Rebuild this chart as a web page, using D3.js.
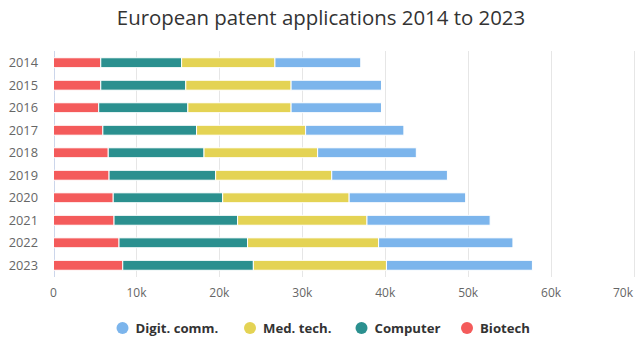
<!DOCTYPE html>
<html lang="en">
<head>
    <meta charset="UTF-8">
    <title>European patent applications 2014 to 2023</title>
    <style>
        body {
            margin: 0;
            padding: 0;
            background: #ffffff;
            font-family: "Open Sans", Arial, sans-serif;
        }
        svg text {
            font-family: "Open Sans", Arial, sans-serif;
        }
    </style>
</head>
<body>
    <div id="chart"></div>
    <script src="https://d3js.org/d3.v7.min.js"></script>
    <script>
        const years = ['2014', '2015', '2016', '2017', '2018', '2019', '2020', '2021', '2022', '2023'];
        const seriesNames = ['Biotech', 'Computer', 'Med. tech.', 'Digit. comm.'];
        const seriesColors = ['#f45b5b', '#2b908f', '#e4d354', '#7cb5ec'];
        const legendOrder = ['Digit. comm.', 'Med. tech.', 'Computer', 'Biotech'];

        // values in thousands
        const biotech = [5.7, 5.7, 5.45, 5.95, 6.6, 6.7, 7.2, 7.3, 7.9, 8.35];
        const computer = [9.75, 10.25, 10.75, 11.3, 11.55, 12.85, 13.2, 14.9, 15.5, 15.75];
        const medTech = [11.25, 12.7, 12.45, 13.15, 13.7, 14.0, 15.25, 15.6, 15.8, 16.05];
        const digitComm = [10.35, 10.9, 10.9, 11.85, 11.9, 13.95, 14.05, 14.85, 16.2, 17.6];
        const xTicks = [0, 10, 20, 30, 40, 50, 60, 70];

        const width = 640, height = 340;
        const margin = { top: 51, right: 6, bottom: 63, left: 53.5 };

        const svg = d3.select('#chart').append('svg')
            .attr('width', width)
            .attr('height', height);

        svg.append('text')
            .attr('x', 321)
            .attr('y', 25)
            .attr('text-anchor', 'middle')
            .style('font-size', '20.4px')
            .style('fill', '#333333')
            .text('European patent applications 2014 to 2023');

        const x = d3.scaleLinear()
            .domain([0, 70])
            .range([margin.left, width - margin.right]);

        const y = d3.scaleBand()
            .domain(years)
            .range([margin.top, height - margin.bottom])
            .paddingInner(0.56)
            .paddingOuter(0.3);

        // grid
        svg.append('g')
            .selectAll('line')
            .data(xTicks.slice(1))
            .enter().append('line')
            .attr('x1', d => Math.round(x(d)) + 0.5)
            .attr('x2', d => Math.round(x(d)) + 0.5)
            .attr('y1', margin.top)
            .attr('y2', height - margin.bottom)
            .attr('stroke', '#e6e6e6');

        // y axis line
        svg.append('line')
            .attr('x1', Math.round(x(0)) + 0.5)
            .attr('x2', Math.round(x(0)) + 0.5)
            .attr('y1', margin.top)
            .attr('y2', height - margin.bottom)
            .attr('stroke', '#ccd6eb');

        const rows = years.map((yr, i) => ({
            year: yr,
            'Biotech': biotech[i],
            'Computer': computer[i],
            'Med. tech.': medTech[i],
            'Digit. comm.': digitComm[i]
        }));

        const stacked = d3.stack().keys(seriesNames)(rows);

        svg.append('g')
            .selectAll('g')
            .data(stacked)
            .enter().append('g')
            .attr('fill', (d, i) => seriesColors[i])
            .selectAll('rect')
            .data(d => d)
            .enter().append('rect')
            .attr('x', d => x(d[0]))
            .attr('y', d => y(d.data.year))
            .attr('width', d => x(d[1]) - x(d[0]))
            .attr('height', y.bandwidth())
            .attr('stroke', '#ffffff')
            .attr('stroke-width', 1);

        // y labels
        svg.append('g')
            .selectAll('text')
            .data(years)
            .enter().append('text')
            .attr('x', 38)
            .attr('y', d => y(d) + y.bandwidth() / 2)
            .attr('dy', '0.35em')
            .attr('text-anchor', 'end')
            .style('font-size', '12.8px')
            .style('fill', '#666666')
            .text(d => d);

        // x labels, last one pulled inside like the reference
        svg.append('g')
            .selectAll('text')
            .data(xTicks)
            .enter().append('text')
            .attr('x', (d, i) => i === xTicks.length - 1 ? x(d) - 1 : x(d))
            .attr('y', 297)
            .attr('text-anchor', (d, i) => i === xTicks.length - 1 ? 'end' : 'middle')
            .style('font-size', '12px')
            .style('fill', '#666666')
            .text(d => d === 0 ? '0' : d + 'k');

        // legend
        const legendX = [122.5, 250, 361.5, 467];
        const legend = svg.append('g')
            .selectAll('g')
            .data(legendOrder)
            .enter().append('g')
            .attr('transform', (d, i) => `translate(${legendX[i]},328)`);

        legend.append('circle')
            .attr('r', 6)
            .attr('fill', d => seriesColors[seriesNames.indexOf(d)]);

        legend.append('text')
            .attr('x', 13)
            .attr('dy', '0.35em')
            .style('font-size', '13.2px')
            .style('font-weight', 'bold')
            .style('fill', '#333333')
            .text(d => d);
    </script>
</body>
</html>
